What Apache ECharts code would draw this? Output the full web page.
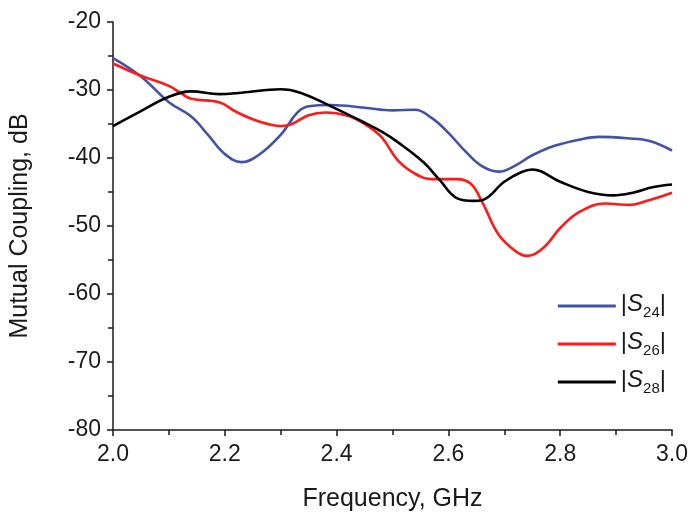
<!DOCTYPE html>
<html>
<head>
<meta charset="utf-8">
<script src="https://cdn.jsdelivr.net/npm/echarts@6/dist/echarts.min.js"></script>
<style>html,body{margin:0;padding:0;background:#fff}#c{width:691px;height:517px}</style>
</head>
<body>
<div id="c"></div>
<script>
const freqS24 = [2.0, 2.05, 2.1, 2.14, 2.17, 2.2, 2.23, 2.26, 2.3, 2.33, 2.35, 2.39, 2.45, 2.5, 2.54, 2.57, 2.6, 2.63, 2.66, 2.69, 2.72, 2.75, 2.79, 2.84, 2.87, 2.92, 2.96, 3.0];
const s24 = [-25.3, -28.0, -31.8, -33.9, -36.6, -39.4, -40.6, -39.6, -36.6, -33.3, -32.4, -32.2, -32.6, -33.0, -32.9, -34.1, -36.3, -39.0, -41.2, -42.0, -41.1, -39.6, -38.2, -37.2, -36.9, -37.1, -37.5, -38.9];
const freqS26 = [2.0, 2.05, 2.1, 2.12, 2.14, 2.19, 2.22, 2.26, 2.3, 2.32, 2.35, 2.38, 2.42, 2.45, 2.48, 2.51, 2.54, 2.57, 2.615, 2.64, 2.66, 2.69, 2.72, 2.74, 2.77, 2.8, 2.835, 2.88, 2.925, 2.955, 3.0];
const s26 = [-26.1, -27.9, -29.4, -30.4, -31.3, -31.8, -33.2, -34.6, -35.3, -35.0, -33.7, -33.3, -33.8, -35.0, -36.9, -40.4, -42.3, -43.1, -43.1, -43.8, -46.4, -51.3, -53.7, -54.4, -53.2, -50.3, -47.9, -46.7, -46.9, -46.3, -45.1];
const freqS28 = [2.0, 2.05, 2.1, 2.14, 2.19, 2.23, 2.3, 2.335, 2.39, 2.45, 2.48, 2.51, 2.555, 2.585, 2.615, 2.645, 2.66, 2.7, 2.73, 2.75, 2.8, 2.85, 2.895, 2.93, 2.965, 3.0];
const s28 = [-35.3, -33.1, -31.0, -30.2, -30.6, -30.4, -29.9, -30.4, -32.4, -34.8, -36.1, -37.7, -40.6, -43.3, -45.9, -46.3, -46.2, -43.5, -42.1, -41.7, -43.5, -45.0, -45.5, -45.1, -44.3, -43.9];
const seriesNames = ['|S24|', '|S26|', '|S28|'];
const subs = ['24', '26', '28'];
const colors = ['#4152a8', '#ff1a1a', '#000000'];

const zip = (xs, ys) => xs.map((x, i) => [x, ys[i]]);
const dataSets = [zip(freqS24, s24), zip(freqS26, s26), zip(freqS28, s28)];

const chart = echarts.init(document.getElementById('c'));
const font = 'Liberation Sans, Arial, sans-serif';
const ink = '#1a1a1a';
chart.setOption({
  animation: false,
  backgroundColor: '#fff',
  grid: { left: 113, right: 19, top: 22, bottom: 83 },
  xAxis: {
    type: 'value', min: 2.0, max: 3.0, interval: 0.2,
    name: 'Frequency, GHz', nameLocation: 'middle', nameGap: 57,
    nameTextStyle: { fontFamily: font, fontSize: 25, color: ink },
    axisLine: { onZero: false, lineStyle: { color: ink, width: 1.5 } },
    axisTick: { inside: false, length: 6, lineStyle: { color: ink, width: 1.5 } },
    minorTick: { show: true, splitNumber: 2, length: 5, lineStyle: { color: ink, width: 1.5 } },
    axisLabel: { fontFamily: font, fontSize: 23, color: ink, margin: 13, formatter: v => v.toFixed(1) },
    splitLine: { show: false }
  },
  yAxis: {
    type: 'value', min: -80, max: -20, interval: 10,
    name: 'Mutual Coupling, dB', nameLocation: 'middle', nameGap: 80,
    nameTextStyle: { fontFamily: font, fontSize: 25, color: ink },
    axisLine: { show: true, onZero: false, lineStyle: { color: ink, width: 1.5 } },
    axisTick: { show: true, inside: false, length: 6, lineStyle: { color: ink, width: 1.5 } },
    minorTick: { show: true, splitNumber: 2, length: 5, lineStyle: { color: ink, width: 1.5 } },
    axisLabel: { fontFamily: font, fontSize: 23, color: ink, margin: 12 },
    splitLine: { show: false }
  },
  legend: {
    orient: 'vertical', right: 20, top: 287,
    itemWidth: 58, itemHeight: 3, itemGap: 10, icon: 'rect',
    data: seriesNames,
    formatter: name => {
      const i = seriesNames.indexOf(name);
      return '{t||}{s|S}{b|' + subs[i] + '}{t||}';
    },
    textStyle: {
      fontFamily: font, fontSize: 24, color: ink,
      rich: {
        t: { fontFamily: font, fontSize: 24, color: ink, verticalAlign: 'top' },
        s: { fontFamily: font, fontSize: 24, fontStyle: 'italic', color: ink, verticalAlign: 'top' },
        b: { fontFamily: font, fontSize: 15, color: ink, verticalAlign: 'top', padding: [13, 0, 0, 0] }
      }
    }
  },
  series: seriesNames.map((n, i) => ({
    name: n, type: 'line', smooth: 0.4, showSymbol: false, symbol: 'none',
    data: dataSets[i],
    lineStyle: { color: colors[i], width: 2.6 },
    itemStyle: { color: colors[i] }
  }))
});
</script>
</body>
</html>
